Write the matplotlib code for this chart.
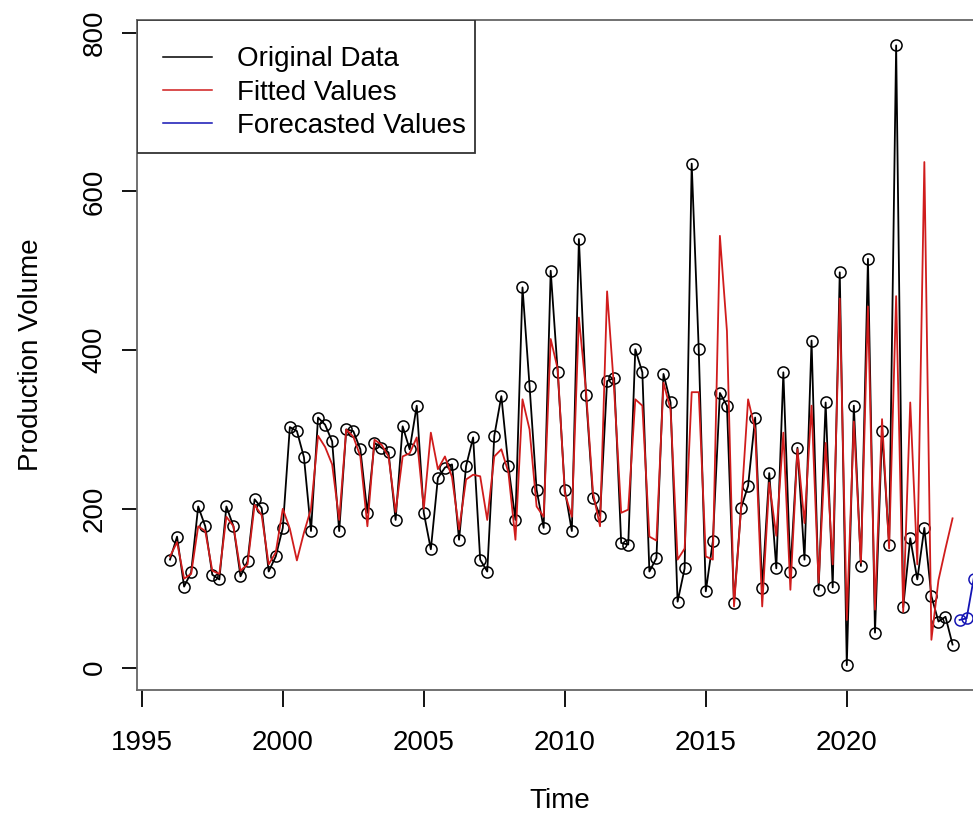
import numpy as np
import matplotlib
matplotlib.use("Agg")
import matplotlib.pyplot as plt
from matplotlib.lines import Line2D
from matplotlib.patches import Rectangle

# ---- data (quarterly series starting 1996 Q1) ----
start_year = 1996
freq = 4
original = [136, 165, 102, 120, 203, 178, 117, 111, 203, 178, 115, 134,
            212, 201, 121, 140, 176, 303, 298, 265, 172, 315, 306, 285,
            172, 300, 298, 275, 195, 283, 277, 271, 186, 304, 275, 330,
            195, 149, 239, 252, 256, 161, 254, 290, 136, 121, 292, 342,
            254, 186, 479, 355, 224, 176, 500, 372, 224, 172, 540, 344,
            214, 191, 361, 365, 157, 155, 401, 372, 121, 138, 370, 334,
            83, 125, 635, 401, 96, 159, 346, 330, 81, 201, 229, 315,
            100, 245, 125, 372, 121, 277, 136, 412, 98, 334, 101, 498,
            3, 330, 128, 515, 44, 298, 155, 784, 76, 163, 111, 176,
            90, 58, 64, 29]
fitted = [140, 158, 112, 118, 178, 172, 122, 118, 190, 178, 122, 130,
          205, 192, 130, 145, 200, 175, 135, 170, 200, 292, 278, 256,
          186, 300, 291, 266, 178, 287, 281, 266, 196, 266, 270, 290,
          200, 296, 250, 266, 240, 174, 237, 243, 241, 186, 266, 275,
          246, 161, 338, 300, 203, 190, 414, 376, 220, 190, 441, 350,
          220, 178, 474, 350, 195, 199, 338, 330, 165, 160, 359, 325,
          136, 150, 347, 347, 140, 136, 544, 424, 77, 200, 338, 300,
          77, 233, 166, 296, 98, 275, 182, 330, 107, 283, 130, 465,
          60, 310, 132, 455, 73, 313, 150, 468, 70, 334, 130, 637,
          35, 110, 150, 188]
forecast_start = 2024
forecast = [60, 62, 112]

x_ticks = [1995, 2000, 2005, 2010, 2015, 2020]
y_ticks = [0, 200, 400, 600, 800]
legend_labels = ["Original Data", "Fitted Values", "Forecasted Values"]
series_colors = ["black", "#d01c1c", "#1414b4"]

plt.rcParams['font.family'] = ['Liberation Sans', 'DejaVu Sans']

W, H = 973, 817
fig = plt.figure(figsize=(W / 100, H / 100), dpi=100)
left, right, top, bottom = 137, 983, 20, 690
ax = fig.add_axes([left / W, 1 - bottom / H, (right - left) / W, (bottom - top) / H])

t = start_year + np.arange(len(original)) / freq
tf = forecast_start + np.arange(len(forecast)) / freq

ax.plot(t, original, color=series_colors[0], lw=1.3, marker='o', mfc='none',
        mec=series_colors[0], ms=8, mew=1.1, zorder=2)
ax.plot(t, fitted, color=series_colors[1], lw=1.3, zorder=3)
ax.plot(tf, forecast, color=series_colors[2], lw=1.3, marker='o', mfc='none',
        mec=series_colors[2], ms=8, mew=1.1, zorder=4)

ax.set_xlim(1994.83, 2024.83)
ax.set_ylim(-28.3, 816)
ax.set_xticks(x_ticks)
ax.set_yticks(y_ticks)
ax.set_xticklabels([str(v) for v in x_ticks])
ax.set_yticklabels([str(v) for v in y_ticks], rotation=90, va='center')

for s in ['left', 'bottom', 'top']:
    ax.spines[s].set_color('#666666')
    ax.spines[s].set_linewidth(1.3)
ax.spines['right'].set_visible(False)

ax.tick_params(axis='x', direction='out', length=12, width=1.3, color='black',
               labelsize=20, pad=17)
ax.tick_params(axis='y', direction='out', length=11, width=1.3, color='black',
               labelsize=20, pad=10)

ax.set_xlabel("Time", fontsize=20, labelpad=23)
ax.set_ylabel("Production Volume", fontsize=20, labelpad=27)

# legend frame (R-style, tighter on the right)
box = Rectangle((137 / W, 1 - 153 / H), (475 - 137) / W, (153 - 20) / H,
                transform=fig.transFigure, facecolor='white', edgecolor='#333333',
                linewidth=1.3, zorder=5)
ax.add_patch(box)

handles = [Line2D([0], [0], color=c, lw=1.1) for c in series_colors]
leg = ax.legend(handles, legend_labels, loc='upper left', bbox_to_anchor=(0, 1),
                borderaxespad=0, fontsize=20, frameon=False,
                handlelength=1.75, handletextpad=0.9, borderpad=0.95,
                labelspacing=0.26)
leg.set_zorder(6)

fig.savefig("out.png", dpi=100)
